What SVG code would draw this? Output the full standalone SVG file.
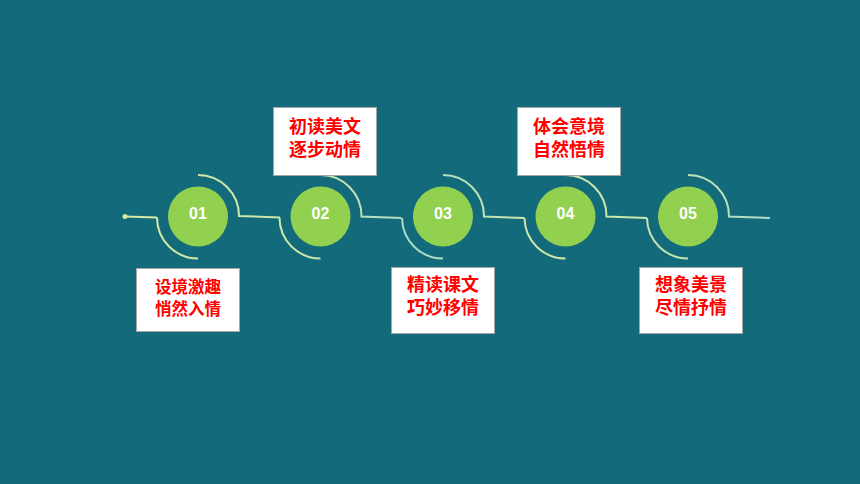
<svg xmlns="http://www.w3.org/2000/svg" width="860" height="484" viewBox="0 0 860 484">
  <defs>
    <linearGradient id="lg" gradientUnits="userSpaceOnUse" x1="120" y1="0" x2="780" y2="0">
      <stop offset="0" stop-color="#d6eaa6"/>
      <stop offset="0.3" stop-color="#c8e6ac"/>
      <stop offset="0.45" stop-color="#a8dcc8"/>
      <stop offset="0.65" stop-color="#d4e9a8"/>
      <stop offset="0.85" stop-color="#c0e4b4"/>
      <stop offset="1" stop-color="#a8dcc8"/>
    </linearGradient>
    <style>
      .ln { fill: none; stroke: url(#lg); stroke-width: 2; }
      .c { fill: #92d050; }
      .num { font-family: "Liberation Sans", Arial, sans-serif; font-size: 16px; font-weight: bold; fill: #ffffff; text-anchor: middle; }
      .box { fill: #ffffff; stroke: #a6a6a6; stroke-width: 1; }
      .lbl { font-family: "Liberation Sans", "Noto Sans CJK SC", sans-serif; font-size: 18px; font-weight: bold; fill: #ff0000; text-anchor: middle; }
      .sm { font-size: 16.5px; }
    </style>
  </defs>
  <rect width="860" height="484" fill="#136a7a"/>

  <g id="connectors">
    <circle cx="125" cy="216.5" r="2.5" fill="#d6eaa6"/>
    <path class="ln" d="M125 216.5 L157 217.5"/>
    <path class="ln" d="M198 175 A41 41 0 0 1 239 216 L280 217.5"/>
    <path class="ln" d="M157 217.5 A41 41 0 0 0 198 258.5"/>
    <path class="ln" d="M320.5 175 A41 41 0 0 1 361.5 216.5 L401.5 218"/>
    <path class="ln" d="M279.5 217.5 A41 41 0 0 0 320.5 258.5"/>
    <path class="ln" d="M443 175 A41 41 0 0 1 484 216.5 L524.5 218"/>
    <path class="ln" d="M402 218 A41 41 0 0 0 443 258.5"/>
    <path class="ln" d="M565.5 175 A41 41 0 0 1 606.5 216.5 L647 218"/>
    <path class="ln" d="M524.5 218 A41 41 0 0 0 565.5 258.5"/>
    <path class="ln" d="M688 175 A41 41 0 0 1 729 216.5 L770 218"/>
    <path class="ln" d="M647 218 A41 41 0 0 0 688 258.5"/>
  </g>

  <g id="node1">
    <circle class="c" cx="198" cy="216.5" r="30"/>
    <text class="num" x="198" y="219">01</text>
    <rect class="box" x="136.5" y="268.5" width="103" height="63"/>
    <text class="lbl sm" x="188" y="293">设境激趣</text>
    <text class="lbl sm" x="188" y="315">悄然入情</text>
  </g>
  <g id="node2">
    <circle class="c" cx="320.5" cy="216.5" r="30"/>
    <text class="num" x="320.5" y="219">02</text>
    <rect class="box" x="273.5" y="107.5" width="103" height="68"/>
    <text class="lbl" x="325" y="133">初读美文</text>
    <text class="lbl" x="325" y="156">逐步动情</text>
  </g>
  <g id="node3">
    <circle class="c" cx="443" cy="216.5" r="30"/>
    <text class="num" x="443" y="219">03</text>
    <rect class="box" x="391.5" y="267.5" width="103" height="66"/>
    <text class="lbl" x="443" y="291">精读课文</text>
    <text class="lbl" x="443" y="314">巧妙移情</text>
  </g>
  <g id="node4">
    <circle class="c" cx="565.5" cy="216.5" r="30"/>
    <text class="num" x="565.5" y="219">04</text>
    <rect class="box" x="517.5" y="107.5" width="103" height="68"/>
    <text class="lbl" x="569" y="133">体会意境</text>
    <text class="lbl" x="569" y="156">自然悟情</text>
  </g>
  <g id="node5">
    <circle class="c" cx="688" cy="216.5" r="30"/>
    <text class="num" x="688" y="219">05</text>
    <rect class="box" x="639.5" y="267.5" width="103" height="66"/>
    <text class="lbl" x="691" y="291">想象美景</text>
    <text class="lbl" x="691" y="314">尽情抒情</text>
  </g>
</svg>
